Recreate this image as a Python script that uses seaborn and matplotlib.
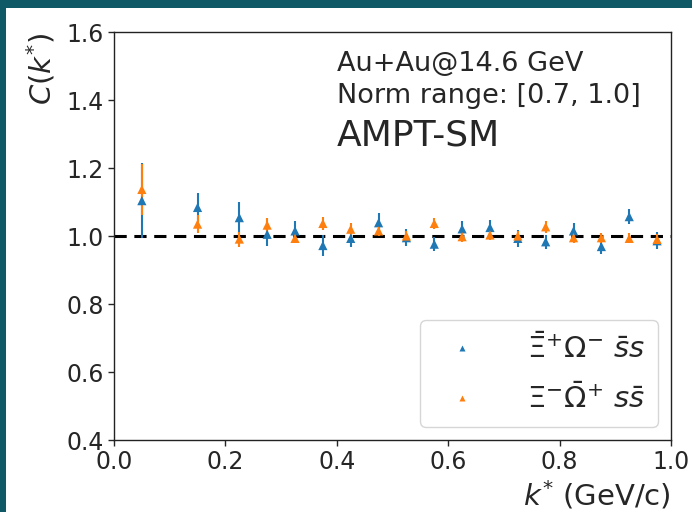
import numpy as np
import pandas as pd
import matplotlib
matplotlib.use("Agg")
import matplotlib.pyplot as plt
import seaborn as sns
from matplotlib.patches import Rectangle

# ---- data ----
kstar = [0.05, 0.15, 0.225, 0.275, 0.325, 0.375, 0.425, 0.475, 0.525,
         0.575, 0.625, 0.675, 0.725, 0.775, 0.825, 0.875, 0.925, 0.975]
c_blue = [1.104, 1.084, 1.054, 1.005, 1.015, 0.972, 0.993, 1.039, 0.995,
          0.976, 1.021, 1.025, 0.993, 0.983, 1.015, 0.969, 1.057, 0.986]
e_blue = [0.110, 0.042, 0.045, 0.035, 0.030, 0.031, 0.026, 0.028, 0.025,
          0.020, 0.023, 0.021, 0.024, 0.021, 0.022, 0.022, 0.022, 0.025]
c_orange = [1.137, 1.035, 0.991, 1.032, 0.993, 1.037, 1.020, 1.015, 1.000,
            1.037, 0.998, 1.003, 1.000, 1.027, 0.995, 0.995, 0.993, 0.990]
e_orange = [0.076, 0.027, 0.022, 0.020, 0.015, 0.018, 0.017, 0.015, 0.015,
            0.015, 0.015, 0.015, 0.015, 0.018, 0.015, 0.015, 0.015, 0.015]
label_blue = r'$\bar{\Xi}^{+}\Omega^{-}\ \bar{s}s$'
label_orange = r'$\Xi^{-}\bar{\Omega}^{+}\ s\bar{s}$'
xticks = [0.0, 0.2, 0.4, 0.6, 0.8, 1.0]
yticks = [0.4, 0.6, 0.8, 1.0, 1.2, 1.4, 1.6]
info_lines = ["Au+Au@14.6 GeV", "Norm range: [0.7, 1.0]"]
model = "AMPT-SM"

sns.set_style("ticks")
plt.rcParams['font.family'] = ['DejaVu Sans']
plt.rcParams['mathtext.fontset'] = 'dejavusans'

df = pd.DataFrame({
    'k': kstar + kstar,
    'C': c_blue + c_orange,
    'err': e_blue + e_orange,
    'pair': [label_blue] * len(kstar) + [label_orange] * len(kstar),
})
colors = {label_blue: '#1f77b4', label_orange: '#ff7f0e'}

fig = plt.figure(figsize=(6.92, 5.12), dpi=100, facecolor='#0f5866')
bg = Rectangle((6 / 692, 0), 1, (512 - 8) / 512,
               transform=fig.transFigure, facecolor='white',
               edgecolor='none', zorder=-10)
fig.add_artist(bg)
ax = fig.add_axes([114 / 692, 72 / 512, 557 / 692, 408 / 512])
ax.set_facecolor('white')

ax.axhline(1.0, color='black', ls='--', lw=2.2, dashes=(4, 2.5), zorder=1)

for lab in [label_blue, label_orange]:
    sub = df[df['pair'] == lab]
    ax.errorbar(sub['k'], sub['C'], yerr=sub['err'], fmt='none',
                ecolor=colors[lab], elinewidth=1.5, zorder=2)

sns.scatterplot(data=df, x='k', y='C', hue='pair', palette=colors,
                marker='^', s=44, edgecolor='none', ax=ax, zorder=3)

ax.set_xlim(0, 1.0)
ax.set_ylim(0.4, 1.6)
ax.set_xticks(xticks)
ax.set_yticks(yticks)
ax.set_xticklabels([f"{t:.1f}" for t in xticks])
ax.set_yticklabels([f"{t:.1f}" for t in yticks])
ax.tick_params(labelsize=17, length=4, width=1, direction='out')
for sp in ax.spines.values():
    sp.set_visible(True)
    sp.set_color('#222222')
    sp.set_linewidth(1.0)

ax.set_xlabel(r'$k^{*}$ (GeV/c)', fontsize=21, loc='right', labelpad=3)
ax.set_ylabel(r'$C(k^{*})$', fontsize=21, loc='top', labelpad=6)

ax.text(0.40, 0.904, info_lines[0], transform=ax.transAxes, fontsize=19.5,
        va='baseline', ha='left')
ax.text(0.40, 0.825, info_lines[1], transform=ax.transAxes, fontsize=19.5,
        va='baseline', ha='left')
ax.text(0.40, 0.721, model, transform=ax.transAxes, fontsize=26,
        va='baseline', ha='left')

leg = ax.legend(loc='lower right', fontsize=21, markerscale=0.65,
                handletextpad=1.2, borderpad=0.45, labelspacing=0.65,
                borderaxespad=0.45, frameon=True, title=None)
leg.get_frame().set_edgecolor('#cccccc')

fig.savefig('out.png', dpi=100, facecolor=fig.get_facecolor())
